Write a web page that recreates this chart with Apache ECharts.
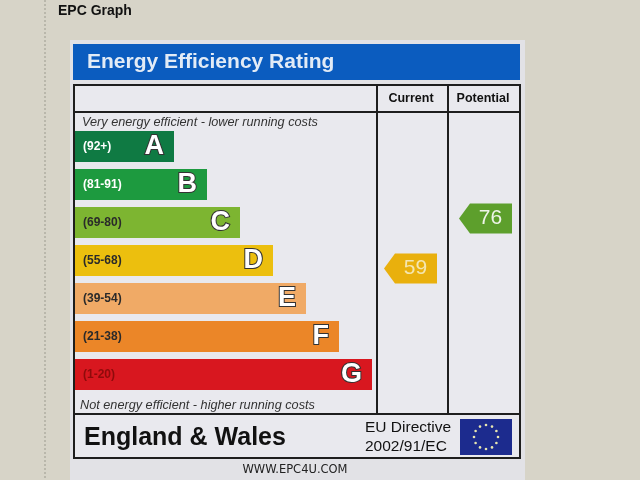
<!DOCTYPE html>
<html>
<head>
<meta charset="utf-8">
<script src="https://cdn.jsdelivr.net/npm/echarts@6/dist/echarts.min.js"></script>
<style>
  html, body { margin: 0; padding: 0; background: #d7d4c8; }
  #main { width: 640px; height: 480px; }
</style>
</head>
<body>
<div id="main"></div>
<script>
// rating bands, top (best) to bottom
const bands = ['A', 'B', 'C', 'D', 'E', 'F', 'G'];
const bandRanges = ['(92+)', '(81-91)', '(69-80)', '(55-68)', '(39-54)', '(21-38)', '(1-20)'];
const barLengths = [3, 4, 5, 6, 7, 8, 9];
const bandColors = ['#0f7a43', '#1d9a3f', '#7db531', '#ecbf0e', '#f0aa66', '#eb8628', '#d8171f'];
const rangeTextColors = ['#ffffff', '#ffffff', '#2a2a2a', '#2a2a2a', '#2a2a2a', '#2a2a2a', '#8e0b0b'];

// current / potential ratings
const ratingColumns = ['Current', 'Potential'];
const ratingValues = [59, 76];
const ratingColors = ['#e9b00d', '#5d9f2c'];
const ratingTextColors = ['#f4e6b0', '#eef4e8'];

let chart = echarts.init(document.getElementById('main'));
const font = 'Liberation Sans, Arial, sans-serif';

// EU flag stars
let stars = [];
for (let i = 0; i < 12; i++) {
    let a = i * Math.PI / 6;
    stars.push({
        type: 'circle',
        shape: { cx: 486 + 12 * Math.cos(a), cy: 437 + 12 * Math.sin(a), r: 1.3 },
        style: { fill: '#e8e6b0' }
    });
}

const lineStyle = { stroke: '#1e1e1e', lineWidth: 2 };

option = {
    backgroundColor: '#d7d4c8',
    graphic: [
        { type: 'line', shape: { x1: 45, y1: 0, x2: 45, y2: 480 }, style: { stroke: '#9c998e', lineWidth: 1, lineDash: [2, 2] } },
        { type: 'text', left: 58, top: 4, style: { text: 'EPC Graph', font: 'bold 14px ' + font, fill: '#111' } },
        { type: 'rect', shape: { x: 70, y: 40, width: 455, height: 440 }, style: { fill: '#e2e2e6' } },
        { type: 'rect', shape: { x: 73, y: 44, width: 447, height: 36 }, style: { fill: '#0b5cbf' } },
        { type: 'text', x: 87, y: 62, style: { text: 'Energy Efficiency Rating', font: 'bold 21px ' + font, fill: '#e2ebf6', verticalAlign: 'middle' } },
        { type: 'rect', shape: { x: 74, y: 85, width: 446, height: 373 }, style: { fill: '#e9e9ee', stroke: '#1e1e1e', lineWidth: 2 } },
        { type: 'line', shape: { x1: 74, y1: 112, x2: 520, y2: 112 }, style: lineStyle },
        { type: 'line', shape: { x1: 74, y1: 414, x2: 520, y2: 414 }, style: lineStyle },
        { type: 'line', shape: { x1: 377, y1: 85, x2: 377, y2: 414 }, style: lineStyle },
        { type: 'line', shape: { x1: 448, y1: 85, x2: 448, y2: 414 }, style: lineStyle },
        { type: 'text', x: 411, y: 99, style: { text: 'Current', font: 'bold 12.5px ' + font, fill: '#111', align: 'center', verticalAlign: 'middle' } },
        { type: 'text', x: 483, y: 99, style: { text: 'Potential', font: 'bold 12.5px ' + font, fill: '#111', align: 'center', verticalAlign: 'middle' } },
        { type: 'text', x: 82, y: 122, style: { text: 'Very energy efficient - lower running costs', font: 'italic 12.7px ' + font, fill: '#333', verticalAlign: 'middle' } },
        { type: 'text', x: 80, y: 405, style: { text: 'Not energy efficient - higher running costs', font: 'italic 12.7px ' + font, fill: '#333', verticalAlign: 'middle' } },
        { type: 'text', x: 84, y: 438, style: { text: 'England & Wales', font: 'bold 25px ' + font, fill: '#111', verticalAlign: 'middle' } },
        { type: 'text', x: 365, y: 428, style: { text: 'EU Directive', font: '15.5px ' + font, fill: '#111', verticalAlign: 'middle' } },
        { type: 'text', x: 365, y: 447, style: { text: '2002/91/EC', font: '15.5px ' + font, fill: '#111', verticalAlign: 'middle' } },
        { type: 'rect', shape: { x: 460, y: 419, width: 52, height: 36 }, style: { fill: '#1c2b8e' } },
        ...stars,
        { type: 'text', x: 295, y: 470, style: { text: 'WWW.EPC4U.COM', font: '11.5px DejaVu Sans, sans-serif', fill: '#222', align: 'center', verticalAlign: 'middle' } }
    ],
    grid: [
        { left: 75, top: 127.5, width: 330, height: 266 },
        { left: 373, top: 148, width: 150, height: 294 }
    ],
    xAxis: [
        { gridIndex: 0, type: 'value', min: 0, max: 10, show: false },
        { gridIndex: 1, type: 'category', data: ratingColumns, show: false }
    ],
    yAxis: [
        {
            gridIndex: 0,
            type: 'category',
            data: bands,
            inverse: true,
            axisLine: { show: false },
            axisTick: { show: false },
            axisLabel: {
                inside: true,
                margin: 8,
                formatter: function (value, index) {
                    return '{c' + index + '|' + bandRanges[index] + '}';
                },
                rich: (function () {
                    let r = {};
                    rangeTextColors.forEach(function (c, i) {
                        r['c' + i] = { color: c, fontSize: 12, fontWeight: 'bold', fontFamily: font };
                    });
                    return r;
                })()
            },
            z: 5
        },
        { gridIndex: 1, type: 'value', min: 0, max: 100, show: false }
    ],
    series: [
        {
            type: 'bar',
            xAxisIndex: 0,
            yAxisIndex: 0,
            barWidth: 31,
            data: barLengths.map(function (v, i) {
                return { value: v, itemStyle: { color: bandColors[i] } };
            }),
            label: {
                show: true,
                position: 'insideRight',
                distance: 10,
                formatter: function (p) { return bands[p.dataIndex]; },
                fontFamily: font,
                fontSize: 27,
                fontWeight: 'bold',
                color: '#ffffff',
                textBorderColor: '#333',
                textBorderWidth: 2
            },
            silent: true,
            animation: false
        },
        {
            type: 'custom',
            xAxisIndex: 1,
            yAxisIndex: 1,
            data: ratingValues.map(function (v, i) { return [i, v]; }),
            renderItem: function (params, api) {
                let p = api.coord([api.value(0), api.value(1)]);
                let i = params.dataIndex;
                let w = 53, h = 30, tip = 11;
                let x0 = p[0] - w / 2, y0 = p[1] - h / 2;
                return {
                    type: 'group',
                    children: [
                        {
                            type: 'polygon',
                            shape: {
                                points: [
                                    [x0, p[1]], [x0 + tip, y0], [x0 + w, y0],
                                    [x0 + w, y0 + h], [x0 + tip, y0 + h]
                                ]
                            },
                            style: { fill: ratingColors[i] }
                        },
                        {
                            type: 'text',
                            x: p[0] + 5,
                            y: p[1],
                            style: {
                                text: String(ratingValues[i]),
                                font: '21px ' + font,
                                fill: ratingTextColors[i],
                                align: 'center',
                                verticalAlign: 'middle'
                            }
                        }
                    ]
                };
            },
            silent: true,
            animation: false
        }
    ]
};

chart.setOption(option);

window.onresize = function () {
    chart.resize();
};
</script>
</body>
</html>
